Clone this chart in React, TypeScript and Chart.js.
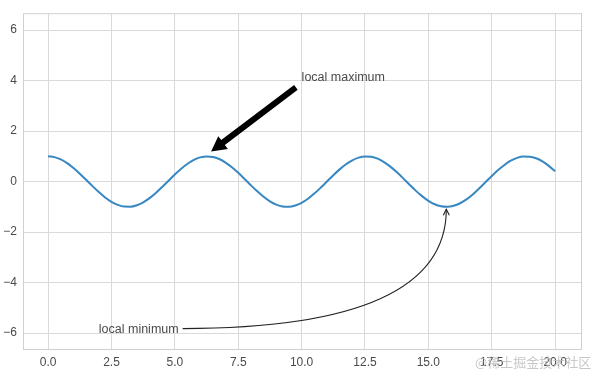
import React, { useEffect, useRef } from "react";
import { Chart, registerables } from "chart.js";

Chart.register(...registerables);

// ---- data ----
const xValues = [
  0, 0.25, 0.5, 0.75, 1, 1.25, 1.5, 1.75, 2, 2.25, 2.5, 2.75, 3, 3.25, 3.5, 3.75,
  4, 4.25, 4.5, 4.75, 5, 5.25, 5.5, 5.75, 6, 6.25, 6.5, 6.75, 7, 7.25, 7.5, 7.75,
  8, 8.25, 8.5, 8.75, 9, 9.25, 9.5, 9.75, 10, 10.25, 10.5, 10.75, 11, 11.25, 11.5, 11.75,
  12, 12.25, 12.5, 12.75, 13, 13.25, 13.5, 13.75, 14, 14.25, 14.5, 14.75, 15, 15.25, 15.5, 15.75,
  16, 16.25, 16.5, 16.75, 17, 17.25, 17.5, 17.75, 18, 18.25, 18.5, 18.75, 19, 19.25, 19.5, 19.75, 20,
];
const yValues = [
  1.0, 0.969, 0.878, 0.732, 0.54, 0.315, 0.071, -0.178, -0.416, -0.628, -0.801, -0.924, -0.99, -0.994, -0.936, -0.82,
  -0.654, -0.447, -0.211, 0.037, 0.284, 0.512, 0.709, 0.861, 0.96, 0.999, 0.977, 0.894, 0.754, 0.566, 0.347, 0.105,
  -0.146, -0.386, -0.602, -0.78, -0.911, -0.985, -0.997, -0.946, -0.839, -0.68, -0.476, -0.243, 0.004, 0.252, 0.484, 0.687,
  0.844, 0.949, 0.998, 0.984, 0.907, 0.773, 0.592, 0.376, 0.137, -0.114, -0.357, -0.576, -0.76, -0.898, -0.979, -0.999,
  -0.958, -0.858, -0.706, -0.508, -0.275, -0.028, 0.22, 0.456, 0.66, 0.826, 0.94, 0.995, 0.989, 0.923, 0.798, 0.624, 0.408,
];
const xTicks = [0, 2.5, 5, 7.5, 10, 12.5, 15, 17.5, 20];
const yTicks = [-6, -4, -2, 0, 2, 4, 6];
const xRange = [-0.99, 21.06];
const yRange = [-6.67, 6.67];

const maxLabel = "local maximum";
const maxTextAt = [10, 4];
const maxPointAt = [6.283, 1];
const minLabel = "local minimum";
const minTextAt = [2, -6];
const minPointAt = [15.708, -1];
const watermark = "@稀土掘金技术社区";

const FONT = "'Liberation Sans', Arial, Helvetica, sans-serif";
const TEXT = "#4a4a4a";

const annotPlugin = {
  id: "annot",
  beforeDatasetsDraw(chart: any) {
    const { ctx, chartArea: a } = chart;
    ctx.save();
    ctx.strokeStyle = "#d0d0d0";
    ctx.lineWidth = 1;
    ctx.strokeRect(a.left + 0.5, a.top + 0.5, a.right - a.left - 1, a.bottom - a.top - 1);
    ctx.restore();
  },
  afterDatasetsDraw(chart: any) {
    const { ctx } = chart;
    const xs = chart.scales.x;
    const ys = chart.scales.y;
    const px = (v: number) => xs.getPixelForValue(v);
    const py = (v: number) => ys.getPixelForValue(v);
    ctx.save();

    // local maximum: text + thick arrow
    ctx.font = `12.5px ${FONT}`;
    ctx.fillStyle = TEXT;
    ctx.textAlign = "left";
    ctx.textBaseline = "alphabetic";
    ctx.fillText(maxLabel, px(maxTextAt[0]), py(maxTextAt[1]));

    const p0 = { x: px(maxTextAt[0]), y: py(maxTextAt[1]) };
    const p1 = { x: px(maxPointAt[0]), y: py(maxPointAt[1]) };
    const dx = p1.x - p0.x;
    const dy = p1.y - p0.y;
    const tail = { x: p0.x + 0.05 * dx - 1, y: p0.y + 0.05 * dy + 3 };
    const tip = { x: p1.x - 0.05 * dx - 1, y: p1.y - 0.05 * dy - 1 };
    const L = Math.hypot(tip.x - tail.x, tip.y - tail.y);
    const ux = (tip.x - tail.x) / L;
    const uy = (tip.y - tail.y) / L;
    const nx = -uy;
    const ny = ux;
    const hl = 15;
    const hw = 8;
    const sw = 3;
    const bx = tip.x - ux * hl;
    const by = tip.y - uy * hl;
    ctx.fillStyle = "#000";
    ctx.beginPath();
    ctx.moveTo(tail.x + nx * sw, tail.y + ny * sw);
    ctx.lineTo(bx + nx * sw, by + ny * sw);
    ctx.lineTo(bx + nx * hw, by + ny * hw);
    ctx.lineTo(tip.x, tip.y);
    ctx.lineTo(bx - nx * hw, by - ny * hw);
    ctx.lineTo(bx - nx * sw, by - ny * sw);
    ctx.lineTo(tail.x - nx * sw, tail.y - ny * sw);
    ctx.closePath();
    ctx.fill();

    // local minimum: text + curved arrow
    ctx.font = `12.5px ${FONT}`;
    ctx.fillStyle = TEXT;
    const tx = px(minTextAt[0]);
    const tyBase = py(minTextAt[1]);
    ctx.fillText(minLabel, tx, tyBase);
    const tw = ctx.measureText(minLabel).width;
    const start = { x: tx + tw + 4, y: tyBase - 4.5 };
    const end = { x: px(minPointAt[0]), y: py(minPointAt[1]) + 2.5 };
    const ctrl = { x: end.x, y: start.y };
    ctx.strokeStyle = "#222";
    ctx.lineWidth = 1.1;
    ctx.beginPath();
    ctx.moveTo(start.x, start.y);
    ctx.quadraticCurveTo(ctrl.x, ctrl.y, end.x, end.y);
    ctx.stroke();
    ctx.beginPath();
    ctx.moveTo(end.x - 3, end.y + 6);
    ctx.lineTo(end.x, end.y);
    ctx.lineTo(end.x + 3, end.y + 6);
    ctx.stroke();

    ctx.restore();
  },
  afterDraw(chart: any) {
    const { ctx } = chart;
    ctx.save();
    ctx.font = `13px 'Noto Sans CJK SC', sans-serif`;
    ctx.fillStyle = "rgba(190,190,190,0.85)";
    ctx.textAlign = "left";
    ctx.textBaseline = "middle";
    ctx.fillText(watermark, 475, 362);
    ctx.restore();
  },
};

export default function App() {
  const ref = useRef<HTMLCanvasElement>(null);
  useEffect(() => {
    document.body.style.margin = "0";
    const points = xValues.map((x, i) => ({ x, y: yValues[i] }));
    const chart = new Chart(ref.current as HTMLCanvasElement, {
      type: "line",
      data: {
        datasets: [
          {
            data: points,
            borderColor: "#3687c2",
            borderWidth: 2,
            pointRadius: 0,
            fill: false,
            cubicInterpolationMode: "monotone",
          } as any,
        ],
      },
      options: {
        animation: false,
        responsive: false,
        devicePixelRatio: 1,
        layout: { padding: { top: 11, right: 19, left: 0, bottom: 0 } },
        plugins: { legend: { display: false }, tooltip: { enabled: false } },
        scales: {
          x: {
            type: "linear",
            min: xRange[0],
            max: xRange[1],
            afterBuildTicks: (axis: any) => {
              axis.ticks = xTicks.map((v) => ({ value: v }));
            },
            afterFit: (axis: any) => {
              axis.height = 33;
            },
            grid: { color: "#dadada", lineWidth: 1, drawTicks: false },
            border: { display: false },
            ticks: {
              padding: 5,
              color: TEXT,
              font: { family: FONT, size: 12 },
              maxRotation: 0,
              autoSkip: false,
              callback: (v: any) => Number(v).toFixed(1),
            },
          },
          y: {
            type: "linear",
            min: yRange[0],
            max: yRange[1],
            afterBuildTicks: (axis: any) => {
              axis.ticks = yTicks.map((v) => ({ value: v }));
            },
            afterFit: (axis: any) => {
              axis.width = 23;
            },
            grid: { color: "#dadada", lineWidth: 1, drawTicks: false },
            border: { display: false },
            ticks: {
              padding: 6,
              color: TEXT,
              font: { family: FONT, size: 12 },
              autoSkip: false,
              callback: (v: any) => (Number(v) < 0 ? "\u2212" + Math.abs(Number(v)) : String(v)),
            },
          },
        },
      },
      plugins: [annotPlugin],
    });
    return () => chart.destroy();
  }, []);
  return (
    <div style={{ position: "absolute", left: 0, top: 0, width: 601, height: 383, background: "#fff" }}>
      <canvas ref={ref} width={601} height={383} style={{ width: 601, height: 383, display: "block" }} />
    </div>
  );
}
